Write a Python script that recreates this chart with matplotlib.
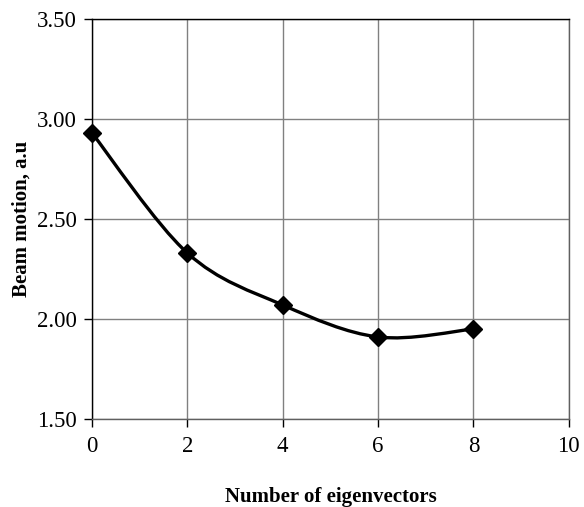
import matplotlib.pyplot as plt
from matplotlib.path import Path
from matplotlib.patches import PathPatch

# Beam motion vs number of eigenvectors
eigenvectors = [0, 2, 4, 6, 8]
beam_motion = [2.93, 2.33, 2.07, 1.91, 1.95]
x_ticks = [0, 2, 4, 6, 8, 10]
y_ticks = [1.50, 2.00, 2.50, 3.00, 3.50]

plt.rcParams['font.family'] = ['Liberation Serif', 'DejaVu Serif']

fig = plt.figure(figsize=(5.84, 5.07), dpi=100)
ax = fig.add_axes([0.1575, 0.1736, 0.8165, 0.7889])

# smoothed line through the points (Bezier segments, like a spreadsheet "smoothed line")
pts = list(zip(eigenvectors, beam_motion))
verts = [pts[0]]
codes = [Path.MOVETO]
n = len(pts)
for i in range(n - 1):
    p0 = pts[max(i - 1, 0)]
    p1 = pts[i]
    p2 = pts[i + 1]
    p3 = pts[min(i + 2, n - 1)]
    c1 = (p1[0] + (p2[0] - p0[0]) / 6, p1[1] + (p2[1] - p0[1]) / 6)
    c2 = (p2[0] - (p3[0] - p1[0]) / 6, p2[1] - (p3[1] - p1[1]) / 6)
    verts += [c1, c2, p2]
    codes += [Path.CURVE4] * 3
ax.add_patch(PathPatch(Path(verts, codes), fill=False, edgecolor='black',
                       lw=2.4, zorder=3, transform=ax.transData))

ax.plot(eigenvectors, beam_motion, linestyle='none', marker='D', markersize=9,
        color='black', zorder=4, clip_on=False)

ax.set_xlim(0, 10)
ax.set_ylim(1.5, 3.5)
ax.set_xticks(x_ticks)
ax.set_yticks(y_ticks)
ax.set_yticklabels(['%.2f' % v for v in y_ticks])
ax.tick_params(labelsize=16.5, length=6, width=1, direction='out', colors='black')
ax.tick_params(axis='x', pad=6)
ax.tick_params(axis='y', pad=5)
ax.grid(True, color='#808080', linewidth=1)
ax.set_axisbelow(True)

for side in ['left', 'top']:
    ax.spines[side].set_color('black')
for side in ['right', 'bottom']:
    ax.spines[side].set_color('#606060')
for s in ax.spines.values():
    s.set_linewidth(1)

ax.set_xlabel('Number of eigenvectors', fontsize=15, fontweight='bold', labelpad=22)
ax.set_ylabel('Beam motion, a.u', fontsize=15, fontweight='bold', labelpad=4)

fig.savefig('out.png', dpi=100)
plt.close(fig)
